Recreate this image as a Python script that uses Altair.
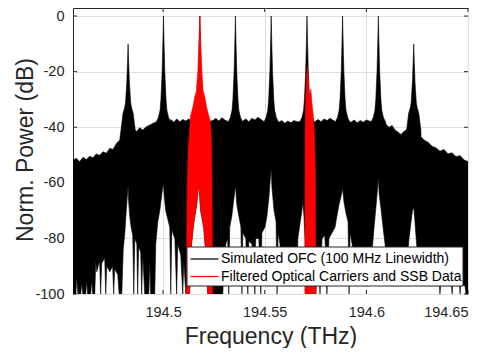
import altair as alt
import pandas as pd

FONT = "Liberation Sans"
F0_THZ = 194.5  # all *_GHZ lists are offsets in GHz from 194.5 THz

X_MIN, X_MAX = 194.4557, 194.65
Y_MIN, Y_MAX = -100, 2.9
X_TICKS = [194.5, 194.55, 194.6, 194.65]
Y_TICKS = [-100, -80, -60, -40, -20, 0]

# optical frequency comb lines
PEAK_GHZ = [-17.2, 0.2, 18.1, 35.6, 53.2, 70.8, 88.3, 105.9, 123.3]
PEAK_TYPE = ["side", "main", "main", "main", "main", "main", "main", "main", "side"]
SKIRT_OFFSET_GHZ = [0.0, 0.3, 0.65, 1.25, 1.7, 2.5, 3.5]
SKIRT_MAIN_DB = [0, -10, -20, -30, -34, -36.5, -38]
SKIRT_SIDE_DB = [-10, -17, -24, -31, -33, -35, -41]

# upper edge of the noise floor between lines
FLOOR_GHZ = [-44.4, -42.6, -41.0, -39.4, -37.7, -36.1, -34.5, -32.8, -31.2, -29.5, -27.9,
             -26.2, -24.6, -22.9, -21.3,
             -12.9, -11.5, -10.0, -8.2, -6.5,
             3.8, 5.3, 6.7, 8.2, 9.7, 11.2, 12.6,
             24.5, 26.0, 27.4, 28.9, 30.4,
             39.2, 40.7, 42.2, 43.7, 45.2, 46.7, 48.2,
             57.0, 58.4, 59.9, 61.4, 62.9, 64.4, 65.9,
             74.7, 76.2, 77.7, 79.2, 80.7, 82.1,
             92.5, 94.0, 95.5, 97.0, 98.5, 100.0,
             109.7, 111.2, 112.7, 114.1, 115.6, 117.1, 118.6,
             126.9, 128.4, 130.3, 132.3, 134.2, 136.2, 138.2, 140.2, 142.1, 144.1,
             146.1, 148.1, 150.1]
FLOOR_DB = [-51.8, -51.2, -52.4, -50.8, -51.6, -50.4, -51.0, -49.6, -50.1, -48.8, -49.4,
            -47.6, -48.0, -45.8, -44.6,
            -41.5, -40.2, -41.0, -39.8, -39.2,
            -37.2, -38.2, -37.0, -38.0, -37.2, -37.8, -37.0,
            -37.6, -36.8, -37.8, -36.6, -37.4,
            -37.8, -37.0, -38.0, -36.8, -37.4, -36.4, -37.2,
            -38.2, -37.6, -38.6, -37.8, -38.4, -37.6, -38.0,
            -38.0, -37.2, -38.0, -37.0, -37.6, -36.8,
            -38.2, -37.4, -38.4, -37.6, -38.2, -37.4,
            -39.0, -40.0, -39.4, -41.0, -41.8, -42.6, -41.4,
            -43.4, -44.6, -45.4, -46.8, -47.4, -48.6, -48.0, -49.6, -49.2, -50.6,
            -50.2, -51.8, -52.4]

# lower edge of the spectrum
LOWER_GHZ = [-44.4, -42.9, -42.4, -41.9, -40.5, -40.0, -39.5, -38.0, -37.6, -37.1, -35.6,
             -35.1, -34.6, -33.6, -33.1, -32.6, -31.2, -30.7, -30.2, -28.7, -28.2, -27.7,
             -26.2, -24.8, -24.3, -23.8, -22.3, -21.6, -20.3, -19.6, -18.8, -18.1, -17.5,
             -17.2, -17.0, -16.4, -15.7, -14.9, -14.4, -13.9, -12.9, -12.5, -12.0, -11.0,
             -10.5, -10.0, -9.0, -7.0, -6.5, -6.1, -4.1, -3.6, -2.6, -1.6, -0.6, 0.2, 0.6,
             1.3, 2.3, 3.3, 3.8, 4.3, 5.8, 6.7, 7.2, 8.7, 9.7, 10.2, 11.2,
             13.0, 14.0, 15.0, 16.5, 17.6, 18.5, 20.0, 21.0, 22.0,
             29.4, 29.9, 30.9, 31.8, 32.3, 32.8, 33.8, 34.8, 35.6, 36.3, 37.3, 38.3, 38.8,
             39.2, 40.7, 41.7, 42.2, 43.7, 45.2, 45.6, 47.1, 48.1, 48.6, 50.1, 51.1, 52.1,
             52.8, 53.2, 53.6, 54.6, 55.6, 56.1, 56.6, 57.5, 58.5,
             65.9, 66.3, 67.3, 68.3, 68.8, 69.3, 69.8, 70.0,
             75.2, 75.7, 76.2, 77.2, 78.2, 79.6, 80.6, 81.6, 83.1, 84.6, 85.5, 86.5, 87.5,
             88.3, 89.0, 90.0, 91.0, 91.5, 92.0, 93.0, 94.4,
             101.8, 102.8, 103.8, 104.8, 105.5, 105.9, 106.3, 107.3, 108.2, 109.2, 110.2,
             119.0, 120.0, 121.0, 122.0, 122.7, 123.3, 123.7, 124.4, 125.4, 126.4,
             136.0, 136.2, 136.5, 141.9, 142.2, 142.4, 145.9, 146.1, 146.3, 148.5, 149.0,
             150.1]
LOWER_DB = [-100, -100, -94, -100, -100, -96, -100, -100, -95, -100, -100,
            -95, -100, -100, -88, -92, -88, -100, -89, -87, -100, -90,
            -92, -90, -100, -91, -93, -100, -100, -84, -78, -70, -64,
            -61, -66, -72, -76, -79, -100, -80, -82, -100, -83, -85,
            -100, -86, -100, -100, -88, -100, -100, -82, -74, -70, -64, -60, -65,
            -70, -73, -76, -100, -77, -80, -100, -82, -86, -100, -88, -100,
            -100, -82, -75, -68, -60, -70, -76, -85, -100,
            -100, -90, -82, -80, -100, -76, -72, -66, -61, -68, -72, -76, -100,
            -78, -80, -100, -81, -82, -100, -80, -80, -100, -78, -76, -72, -65,
            -58, -55, -62, -70, -74, -100, -78, -82, -97,
            -97, -80, -75, -70, -67, -72, -80, -100,
            -100, -90, -82, -100, -80, -79, -100, -80, -78, -76, -72, -68, -65,
            -62, -67, -71, -74, -100, -78, -82, -97,
            -97, -85, -76, -68, -62, -58, -64, -70, -76, -82, -97,
            -97, -88, -80, -74, -70, -69, -72, -79, -88, -97,
            -97, -100, -97, -97, -100, -97, -97, -100, -97, -97, -100,
            -100]

# filtered optical carrier + SSB data (red), first band
RED1_UP_GHZ = [11.5, 11.9, 12.4, 12.9, 13.5, 14.6, 15.6, 16.4, 17.1, 17.7, 18.1, 18.4,
               19.1, 19.7, 20.5, 21.5, 22.5, 23.3, 23.8, 24.1, 24.3]
RED1_UP_DB = [-100, -60, -47, -43, -36, -33, -29, -27, -20, -8, 0, -8,
              -20, -27, -29, -33, -36, -38, -45, -60, -100]
RED1_LO_GHZ = [11.5, 13.0, 14.0, 15.0, 16.5, 17.6, 18.5, 20.0, 21.0, 22.0, 24.3]
RED1_LO_DB = [-100, -100, -82, -75, -68, -60, -70, -76, -85, -100, -100]

# second band
RED2_UP_GHZ = [69.8, 69.9, 70.2, 70.6, 71.1, 71.5, 71.9, 72.3, 72.7, 73.2, 73.9, 74.4, 74.9, 75.2]
RED2_UP_DB = [-100, -40, -29, -22, -18, -24, -30, -28, -26.4, -31, -36, -42, -55, -100]
RED2_LO_GHZ = [69.8, 75.2]
RED2_LO_DB = [-100, -100]

LEGEND_LABELS = ["Simulated OFC (100 MHz Linewidth)", "Filtered Optical Carriers and SSB Data"]
LEGEND_COLORS = ["#000000", "#ff0000"]


def thz(g):
    return F0_THZ + g / 1000.0


def polygon(up_g, up_d, lo_g, lo_d):
    rows = []
    for g, d in zip(up_g, up_d):
        rows.append((thz(g), d))
    for g, d in reversed(list(zip(lo_g, lo_d))):
        rows.append((thz(g), d))
    return pd.DataFrame({"f": [r[0] for r in rows], "db": [r[1] for r in rows],
                         "i": list(range(len(rows)))})


# upper envelope of black spectrum: floor + line skirts
pts = []
win = SKIRT_OFFSET_GHZ[-1]
for g, d in zip(FLOOR_GHZ, FLOOR_DB):
    if all(abs(g - p) > win for p in PEAK_GHZ):
        pts.append((g, d))
for p, t in zip(PEAK_GHZ, PEAK_TYPE):
    prof = SKIRT_MAIN_DB if t == "main" else SKIRT_SIDE_DB
    for o, d in zip(SKIRT_OFFSET_GHZ, prof):
        pts.append((p - o, d))
        if o > 0:
            pts.append((p + o, d))
pts.sort()
up_g = [p[0] for p in pts]
up_d = [p[1] for p in pts]

black_df = polygon(up_g, up_d, LOWER_GHZ, LOWER_DB)
red1_df = polygon(RED1_UP_GHZ, RED1_UP_DB, RED1_LO_GHZ, RED1_LO_DB)
red2_df = polygon(RED2_UP_GHZ, RED2_UP_DB, RED2_LO_GHZ, RED2_LO_DB)

X = alt.X("f:Q", scale=alt.Scale(domain=[X_MIN, X_MAX], nice=False, zero=False),
          axis=alt.Axis(values=X_TICKS, format=".2~f", title="Frequency (THz)",
                        labelPadding=11, titleY=49, titleBaseline="alphabetic"))
Y = alt.Y("db:Q", scale=alt.Scale(domain=[Y_MIN, Y_MAX], nice=False, zero=False),
          axis=alt.Axis(values=Y_TICKS, labelExpr="datum.value + ''", title="Norm. Power (dB)",
                        labelPadding=9, titleX=-41, titleY=141.5, titleBaseline="alphabetic"))

W, H = 395, 286
TICK = 4
TC = "#262626"

xt = pd.DataFrame({"f": X_TICKS})
yt = pd.DataFrame({"db": Y_TICKS})
ticks = [
    alt.Chart(xt).mark_rule(color=TC, strokeWidth=1).encode(x=X, y=alt.value(0), y2=alt.value(TICK)),
    alt.Chart(xt).mark_rule(color=TC, strokeWidth=1).encode(x=X, y=alt.value(H - TICK), y2=alt.value(H)),
    alt.Chart(yt).mark_rule(color=TC, strokeWidth=1).encode(y=Y, x=alt.value(0), x2=alt.value(TICK)),
    alt.Chart(yt).mark_rule(color=TC, strokeWidth=1).encode(y=Y, x=alt.value(W - TICK), x2=alt.value(W)),
]


def poly_layer(df, color):
    return alt.Chart(df).mark_line(fill=color, stroke=color, strokeWidth=0.6, clip=True,
                                   interpolate="linear").encode(
        x=X, y=Y, order=alt.Order("i:Q"))


black = poly_layer(black_df, "#000000")
red1 = poly_layer(red1_df, "#ff0000")
red2 = poly_layer(red2_df, "#ff0000")

leg_df = pd.DataFrame({"label": LEGEND_LABELS})
leg_box = alt.Chart(leg_df.head(1)).mark_rect(fill="white", stroke=TC, strokeWidth=1).encode(
    x=alt.value(114), x2=alt.value(390), y=alt.value(239), y2=alt.value(278))
leg_layers = [leg_box]
ROW_Y = [251, 268.5]
for k in range(2):
    one = pd.DataFrame({"label": [LEGEND_LABELS[k]]})
    leg_layers.append(alt.Chart(one).mark_rule(color=LEGEND_COLORS[k], strokeWidth=1.2).encode(
        x=alt.value(117.5), x2=alt.value(145.5), y=alt.value(ROW_Y[k])))
    leg_layers.append(alt.Chart(one).mark_text(align="left", baseline="middle", font=FONT,
                                               fontSize=14, color="#000000").encode(
        x=alt.value(148), y=alt.value(ROW_Y[k]), text="label:N"))

chart = alt.layer(*ticks, black, red1, red2, *leg_layers).properties(
    width=W, height=H,
    autosize=alt.AutoSizeParams(type="none"),
    padding={"left": 65, "top": 0, "right": 16, "bottom": 54},
).configure_view(stroke=TC, strokeWidth=1).configure_axis(
    grid=True, gridColor="#dedede", gridWidth=1, domain=False, ticks=False,
    labelFont=FONT, labelFontSize=14.5, labelColor=TC,
    titleFont=FONT, titleFontSize=23, titleColor=TC, titleFontWeight="normal",
)

chart.save("out.html", embed_options={"renderer": "svg", "actions": False})
